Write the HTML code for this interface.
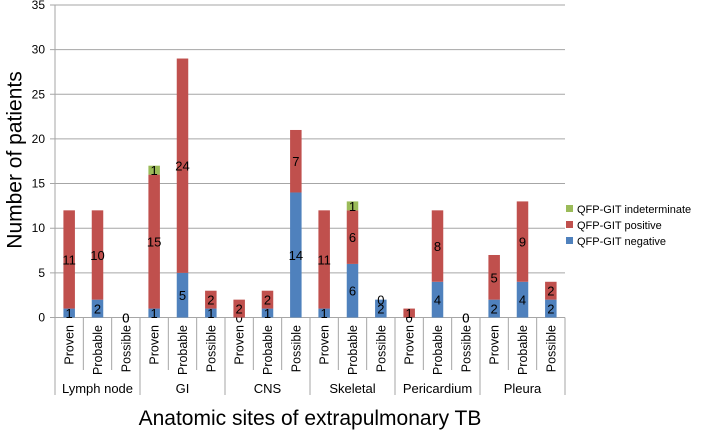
<!DOCTYPE html>
<html><head><meta charset="utf-8"><style>
body{margin:0;background:#fff;}
svg text{font-family:"Liberation Sans","DejaVu Sans",sans-serif;fill:#000;}
</style></head><body>
<svg id="c" width="709" height="430" xmlns="http://www.w3.org/2000/svg"></svg>
<script>
const groups=["Lymph node","GI","CNS","Skeletal","Pericardium","Pleura"];
const subcats=["Proven","Probable","Possible"];
const negative=[1,2,0, 1,5,1, 0,1,14, 1,6,2, 0,4,0, 2,4,2];
const positive=[11,10,0, 15,24,2, 2,2,7, 11,6,0, 1,8,0, 5,9,2];
const indeterminate=[0,0,0, 1,0,0, 0,0,0, 0,1,0, 0,0,0, 0,0,0];
const yTicks=[0,5,10,15,20,25,30,35];
const NS="http://www.w3.org/2000/svg";
const svg=document.getElementById('c');
const X0=55,X1=565,Y0=317.5,PX=8.93;
const n=negative.length,cw=(X1-X0)/n,bw=11.5;
const y=v=>Y0-v*PX;
const xc=i=>X0+cw*(i+0.5);
function el(t,a,p){const e=document.createElementNS(NS,t);for(const k in a)e.setAttribute(k,a[k]);(p||svg).appendChild(e);return e;}
yTicks.forEach(v=>{
  const l=el('line',{x1:X0-5,x2:X1,y1:y(v),y2:y(v),stroke:'#a6a6a6','stroke-width':1});
  
  
  const t=el('text',{x:X0-10,y:y(v)+4,'text-anchor':'end','font-size':12,fill:'#333'});
  t.textContent=v;
  
  
});
el('line',{x1:X0,x2:X0,y1:y(35),y2:395,stroke:'#a6a6a6'});
const series=[[negative,'#4F81BD','negative'],[positive,'#C0504D','positive'],[indeterminate,'#9BBB59','indeterminate']];
for(let i=0;i<n;i++){
  let base=0;
  series.forEach(([arr,col,nm])=>{
    const v=arr[i];
    if(v>0){
      const r=el('rect',{x:xc(i)-bw/2,y:y(base+v),width:bw,height:v*PX,fill:col});
      
      
    }
    if(v>0||nm!=='indeterminate'){
      const t=el('text',{x:xc(i),y:(v>0?y(base+v/2):y(base))+5,'text-anchor':'middle','font-size':13});
      t.textContent=v;
      
      
    }
    base+=v;
  });
  const s=el('text',{transform:`translate(${xc(i)+4.5},${325}) rotate(-90)`,'text-anchor':'end','font-size':12.5});
  s.textContent=subcats[i%3];
  
  
  if(i%3!==0){
    const l=el('line',{x1:X0+cw*i,x2:X0+cw*i,y1:Y0,y2:370,stroke:'#a6a6a6'});
    
    
  }
}
groups.forEach((g,k)=>{
  const x=X0+cw*3*(k+1);
  const l=el('line',{x1:x,x2:x,y1:Y0,y2:395,stroke:'#a6a6a6'});
  
  
  const t=el('text',{x:X0+cw*3*(k+0.5),y:393,'text-anchor':'middle','font-size':13});
  t.textContent=g;
  
  
});
const xt=el('text',{x:310,y:425,'text-anchor':'middle','font-size':21});
xt.textContent='Anatomic sites of extrapulmonary TB';


const yt=el('text',{transform:'translate(16,160) rotate(-90)','text-anchor':'middle','font-size':21,'dominant-baseline':'middle'});
yt.textContent='Number of patients';


const leg=[['QFP-GIT indeterminate','#9BBB59'],['QFP-GIT positive','#C0504D'],['QFP-GIT negative','#4F81BD']];
leg.forEach(([t,c],k)=>{
  const g=el('g',{});
  
  
  el('rect',{x:566,y:205+k*16,width:7,height:7,fill:c},g);
  const tx=el('text',{x:577,y:213+k*16,'font-size':11},g);
  tx.textContent=t;
});
</script>
</body></html>
